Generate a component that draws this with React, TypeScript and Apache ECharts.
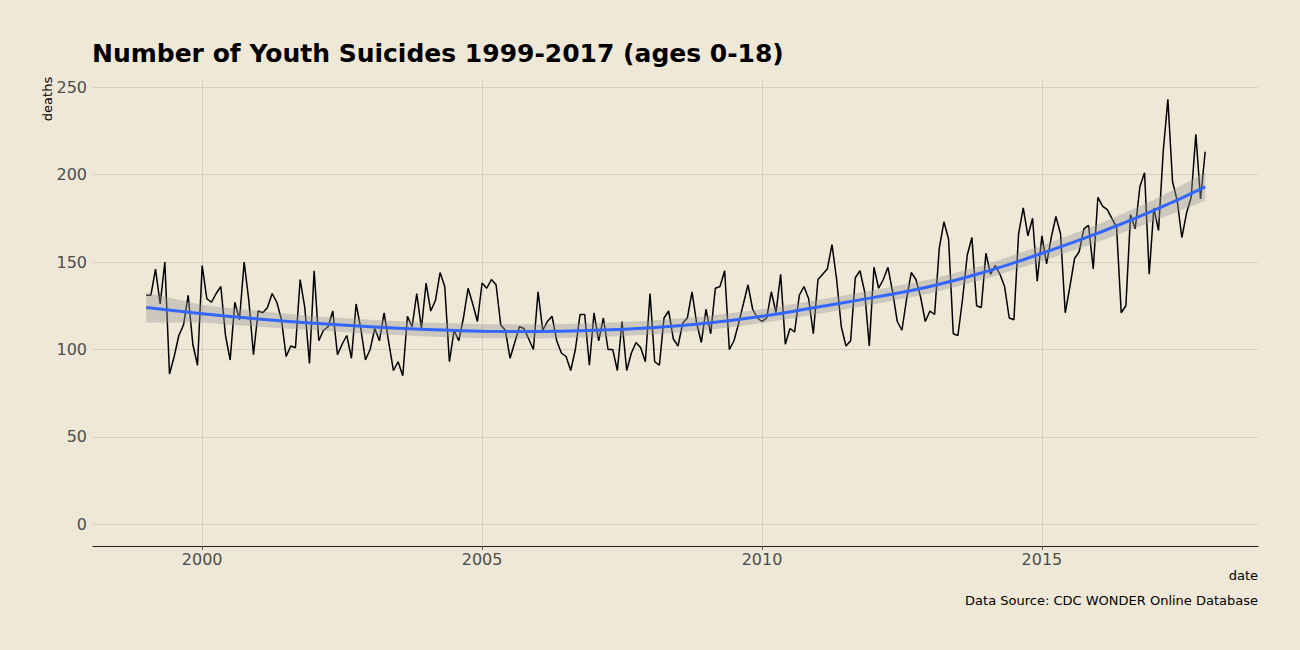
import React, { useEffect, useRef } from "react";
import * as echarts from "echarts";

const years = [1999, 2000, 2001, 2002, 2003, 2004, 2005, 2006, 2007, 2008, 2009, 2010, 2011, 2012, 2013, 2014, 2015, 2016, 2017];

const deaths1999 = [131, 131, 146, 126, 150, 86, 96, 108, 114, 131, 103, 91];
const deaths2000 = [148, 129, 127, 132, 136, 108, 94, 127, 117, 150, 128, 97];
const deaths2001 = [122, 121, 124, 132, 127, 117, 96, 102, 101, 140, 124, 92];
const deaths2002 = [145, 105, 111, 113, 122, 97, 103, 108, 95, 126, 112, 94];
const deaths2003 = [100, 112, 105, 121, 104, 88, 93, 85, 119, 113, 132, 112];
const deaths2004 = [138, 122, 128, 144, 136, 93, 111, 105, 118, 135, 126, 116];
const deaths2005 = [138, 135, 140, 137, 114, 111, 95, 104, 113, 112, 106, 100];
const deaths2006 = [133, 111, 116, 119, 105, 98, 96, 88, 100, 120, 120, 91];
const deaths2007 = [121, 105, 118, 100, 100, 88, 116, 88, 98, 104, 101, 93];
const deaths2008 = [132, 93, 91, 118, 122, 106, 102, 115, 118, 133, 115, 104];
const deaths2009 = [123, 109, 135, 136, 145, 100, 105, 115, 126, 137, 123, 118];
const deaths2010 = [116, 118, 133, 121, 143, 103, 112, 110, 131, 136, 129, 109];
const deaths2011 = [140, 143, 146, 160, 140, 113, 102, 105, 141, 145, 133, 102];
const deaths2012 = [147, 135, 140, 147, 133, 116, 111, 129, 144, 140, 130, 116];
const deaths2013 = [122, 120, 158, 173, 163, 109, 108, 129, 154, 164, 125, 124];
const deaths2014 = [155, 143, 148, 143, 136, 118, 117, 166, 181, 165, 175, 139];
const deaths2015 = [165, 149, 164, 176, 166, 121, 136, 152, 156, 169, 171, 146];
const deaths2016 = [187, 182, 180, 175, 170, 121, 125, 177, 169, 193, 201, 143];
const deaths2017 = [181, 168, 213, 243, 196, 185, 164, 178, 187, 223, 186, 213];

const monthlyDeaths = [
  deaths1999, deaths2000, deaths2001, deaths2002, deaths2003, deaths2004, deaths2005,
  deaths2006, deaths2007, deaths2008, deaths2009, deaths2010, deaths2011, deaths2012,
  deaths2013, deaths2014, deaths2015, deaths2016, deaths2017,
];

// smoothed trend (read at January of each year, plus December 2017)
const trendX = [1999, 2000, 2001, 2002, 2003, 2004, 2005, 2006, 2007, 2008, 2009, 2010, 2011, 2012, 2013, 2014, 2015, 2016, 2017, 2017.917];
const trendY = [124, 120.5, 117.5, 115, 113, 111.5, 110.5, 110.3, 111, 112.5, 115, 119, 124.3, 129.8, 136, 144.5, 155, 166.5, 179.5, 193];
const bandLow = [115.5, 115.5, 113, 111, 109, 107.5, 106.5, 106.3, 107, 108.5, 111, 115, 120.3, 125.8, 132, 140.5, 150.5, 161.5, 173.5, 185];
const bandHigh = [132.5, 125.5, 122, 119, 117, 115.5, 114.5, 114.3, 115, 116.5, 119, 123, 128.3, 133.8, 140, 148.5, 159.5, 171.5, 185.5, 201];

const xTicks = [2000, 2005, 2010, 2015];
const yTicks = [0, 50, 100, 150, 200, 250];

export default function App() {
  const ref = useRef<HTMLDivElement>(null);
  useEffect(() => {
    if (!ref.current) return;
    const chart = echarts.init(ref.current, null, { renderer: "svg" });
    const lineData: number[][] = [];
    monthlyDeaths.forEach((arr, yi) => {
      arr.forEach((v, m) => lineData.push([years[yi] + m / 12, v]));
    });
    const bandData = trendX.map((x, i) => [x, bandLow[i], bandHigh[i]]);
    const trendData = trendX.map((x, i) => [x, trendY[i]]);
    const font = "DejaVu Sans";
    chart.setOption({
      animation: false,
      backgroundColor: "#EFE8D7",
      textStyle: { fontFamily: font },
      title: {
        text: "Number of Youth Suicides 1999-2017 (ages 0-18)",
        left: 87,
        top: 36,
        textStyle: { fontFamily: font, fontSize: 25, fontWeight: "bold", color: "#000" },
      },
      grid: { left: 93, right: 42, top: 79, bottom: 104 },
      xAxis: {
        type: "value",
        min: 1998.05,
        max: 2018.86,
        axisLine: { show: true, onZero: false, lineStyle: { color: "#222", width: 1.2 } },
        axisTick: { show: true, customValues: xTicks, length: 4, lineStyle: { color: "#555" } },
        axisLabel: {
          customValues: xTicks,
          color: "#4d4d4d",
          fontSize: 16,
          margin: 5,
          fontFamily: font,
          formatter: (v: number) => String(v),
        },
        splitLine: { show: true, lineStyle: { color: "#D6CFC3", width: 1 } },
      },
      yAxis: {
        type: "value",
        min: -12.3,
        max: 254.6,
        axisLine: { show: false },
        axisTick: { show: false, customValues: yTicks },
        axisLabel: { customValues: yTicks, color: "#4d4d4d", fontSize: 16, margin: 6, fontFamily: font },
        splitLine: { show: true, lineStyle: { color: "#D6CFC3", width: 1 } },
      },
      series: [
        {
          type: "line",
          data: lineData,
          showSymbol: false,
          lineStyle: { color: "#000", width: 1.5 },
          z: 2,
        },
        {
          type: "custom",
          data: bandData,
          z: 3,
          renderItem: (params: any, api: any) => {
            if (params.dataIndex !== 0) return null;
            const pts: number[][] = [];
            bandData.forEach((d) => pts.push(api.coord([d[0], d[2]])));
            for (let i = bandData.length - 1; i >= 0; i--) {
              pts.push(api.coord([bandData[i][0], bandData[i][1]]));
            }
            return {
              type: "polygon",
              shape: { points: pts },
              style: { fill: "rgba(153,153,153,0.4)", stroke: "none" },
            };
          },
        },
        {
          type: "line",
          data: trendData,
          smooth: true,
          showSymbol: false,
          lineStyle: { color: "#3366FF", width: 3 },
          z: 4,
        },
      ],
      graphic: [
        {
          type: "text",
          x: 47,
          y: 99,
          rotation: Math.PI / 2,
          style: { text: "deaths", fontSize: 13, fill: "#000", fontFamily: font, align: "center", verticalAlign: "middle" },
        },
        {
          type: "text",
          right: 42,
          top: 569,
          style: { text: "date", fontSize: 13, fill: "#000", fontFamily: font },
        },
        {
          type: "text",
          right: 42,
          top: 594,
          style: { text: "Data Source: CDC WONDER Online Database", fontSize: 13, fill: "#000", fontFamily: font },
        },
      ],
    });
    return () => chart.dispose();
  }, []);
  return <div ref={ref} style={{ width: 1300, height: 650, position: "absolute", left: 0, top: 0 }} />;
}
